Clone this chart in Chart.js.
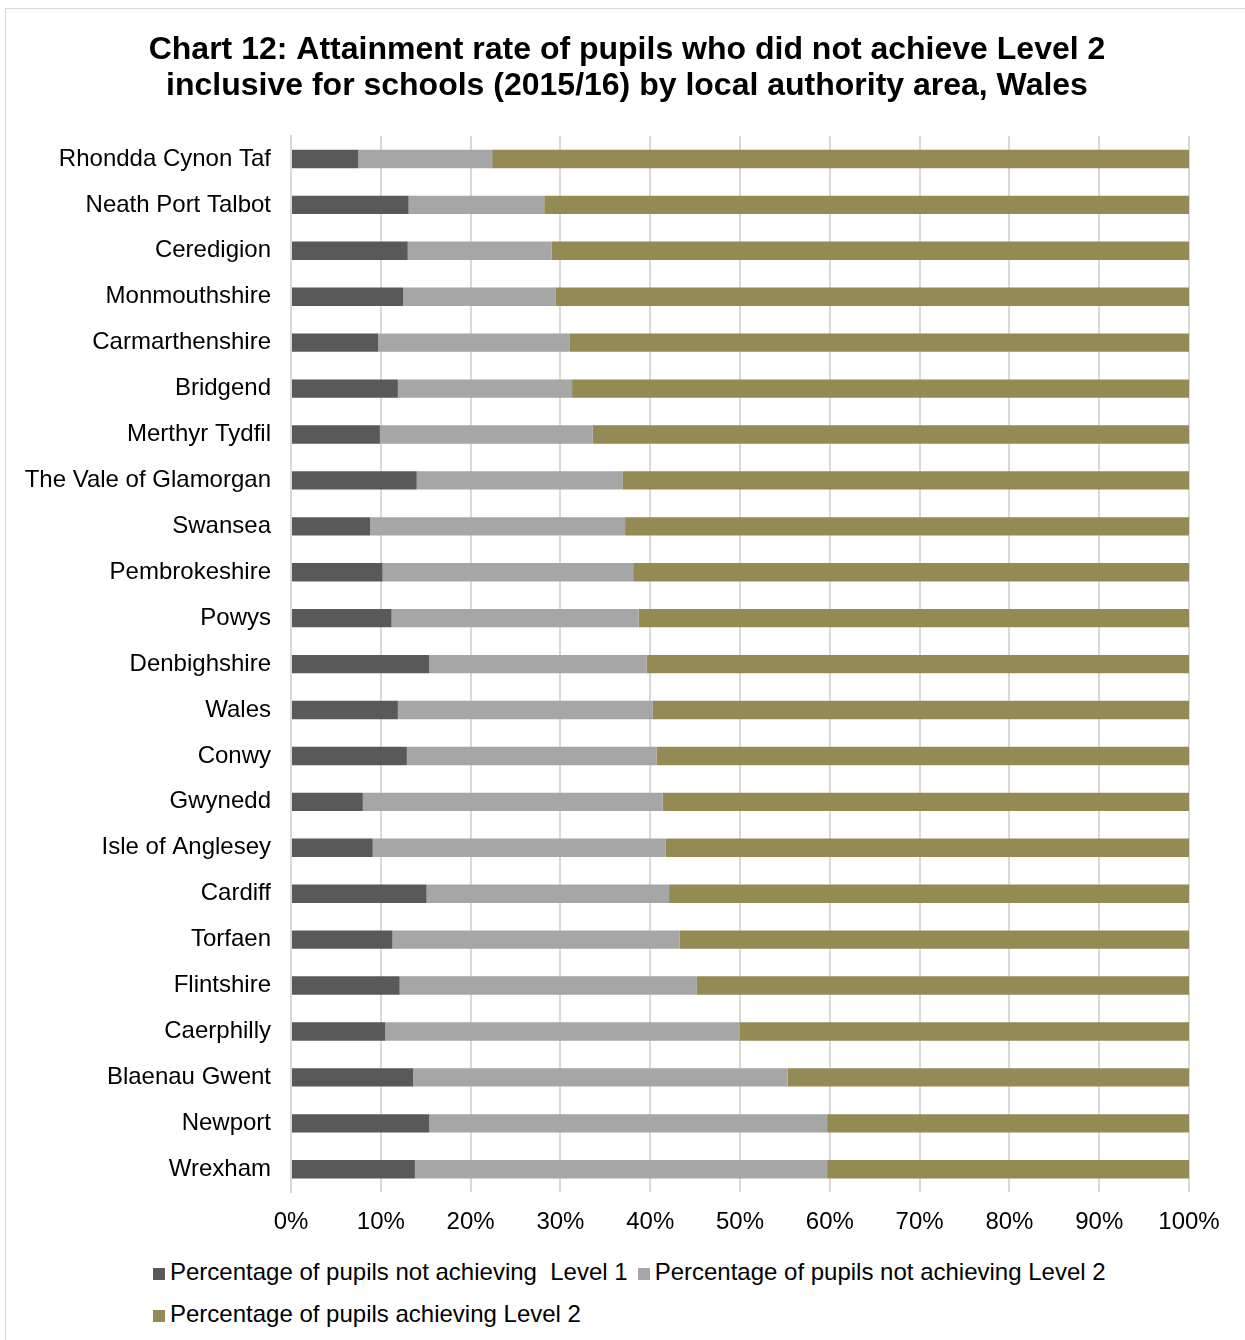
<!DOCTYPE html>
<html>
<head>
<meta charset="utf-8">
<script src="https://cdn.jsdelivr.net/npm/chart.js@4/dist/chart.umd.min.js"></script>
<style>
    body { margin: 0; background: #fff; }
    #frame {
        position: absolute; left: 5px; top: 8px; width: 1260px; height: 1360px;
        border: 1px solid #d9d9d9; box-sizing: border-box; background: #fff;
    }
    #wrap { position: absolute; left: 0; top: 0; width: 1245px; height: 1253px; }
    #legend {
        position: absolute; left: 152px; top: 1257px; width: 1000px;
        font: 24px "Liberation Sans", Arial, sans-serif; color: #000;
    }
    #legend span.item { display: inline-block; white-space: pre; height: 42px; line-height: 30px; margin-right: 9px; }
    #legend i { display: inline-block; width: 12px; height: 12px; margin: 0 5px 0 1px; }
</style>
</head>
<body>
<div id="frame"></div>
<div id="wrap"><canvas id="chart"></canvas></div>
<div id="legend"></div>
<script>
const areas = [
    'Rhondda Cynon Taf', 'Neath Port Talbot', 'Ceredigion', 'Monmouthshire',
    'Carmarthenshire', 'Bridgend', 'Merthyr Tydfil', 'The Vale of Glamorgan',
    'Swansea', 'Pembrokeshire', 'Powys', 'Denbighshire', 'Wales', 'Conwy',
    'Gwynedd', 'Isle of Anglesey', 'Cardiff', 'Torfaen', 'Flintshire',
    'Caerphilly', 'Blaenau Gwent', 'Newport', 'Wrexham',
];

// share not reaching Level 1
const notLevel1 = [
    7.5, 13.1, 13.0, 12.5, 9.7, 11.9, 9.9, 14.0, 8.8, 10.2, 11.2, 15.4,
    11.9, 12.9, 8.0, 9.1, 15.1, 11.3, 12.1, 10.5, 13.6, 15.4, 13.8,
];
// reached Level 1 but not Level 2
const notLevel2 = [
    14.9, 15.1, 16.0, 17.0, 21.3, 19.4, 23.7, 22.9, 28.4, 27.9, 27.5, 24.2,
    28.4, 27.8, 33.4, 32.6, 27.0, 32.0, 33.1, 39.5, 41.7, 44.3, 45.9,
];
const achievedLevel2 = [
    77.6, 71.8, 71.0, 70.5, 69.0, 68.7, 66.4, 63.1, 62.8, 61.9, 61.3, 60.4,
    59.7, 59.3, 58.6, 58.3, 57.9, 56.7, 54.8, 50.0, 44.7, 40.3, 40.3,
];

const seriesNames = [
    'Percentage of pupils not achieving  Level 1',
    'Percentage of pupils not achieving Level 2',
    'Percentage of pupils achieving Level 2',
];
const seriesColours = ['#595959', '#a6a6a6', '#948a54'];
const xTicks = [0, 10, 20, 30, 40, 50, 60, 70, 80, 90, 100];

const font = '"Liberation Sans", Arial, sans-serif';

// the left padding only serves to centre the title; let the category
// labels use that strip too instead of being clipped at the scale edge
const widenLabels = {
    id: 'widenLabels',
    afterLayout(chart) {
        chart.scales.y.left = 0;
    },
};

const chart = new Chart(document.getElementById('chart'), {
    type: 'bar',
    data: {
        labels: areas,
        datasets: [notLevel1, notLevel2, achievedLevel2].map((values, i) => ({
            label: seriesNames[i],
            data: values,
            backgroundColor: seriesColours[i],
            barPercentage: 0.4,
            categoryPercentage: 1,
        })),
    },
    plugins: [widenLabels],
    options: {
        indexAxis: 'y',
        responsive: true,
        maintainAspectRatio: false,
        animation: false,
        layout: { padding: { left: 65, right: 56, bottom: 0 } },
        plugins: {
            legend: { display: false },
            tooltip: { enabled: false },
            title: {
                display: true,
                text: [
                    'Chart 12: Attainment rate of pupils who did not achieve Level 2',
                    'inclusive for schools (2015/16) by local authority area, Wales',
                ],
                color: '#000',
                font: { family: font, size: 32, weight: 'bold', lineHeight: 1.125 },
                padding: { top: 32, bottom: 32 },
            },
        },
        scales: {
            x: {
                stacked: true,
                min: 0,
                max: 100,
                afterBuildTicks: (scale) => {
                    scale.ticks = xTicks.map(v => ({ value: v }));
                },
                ticks: {
                    callback: (v) => v + '%',
                    color: '#000',
                    font: { family: font, size: 24 },
                    padding: 16,
                    maxRotation: 0,
                },
                grid: { color: '#d9d9d9', lineWidth: 2, drawTicks: false },
                border: { display: false },
            },
            y: {
                stacked: true,
                afterFit: (scale) => { scale.width = 226; },
                ticks: {
                    color: '#000',
                    font: { family: font, size: 24 },
                    padding: 20,
                    autoSkip: false,
                },
                grid: { display: false, drawTicks: false },
                border: { color: '#d9d9d9', width: 2 },
            },
        },
    },
});

// legend rows below the chart
const legend = document.getElementById('legend');
chart.data.datasets.forEach((ds) => {
    const item = document.createElement('span');
    item.className = 'item';
    const box = document.createElement('i');
    box.style.background = ds.backgroundColor;
    item.appendChild(box);
    item.appendChild(document.createTextNode(ds.label));
    legend.appendChild(item);
});
</script>
</body>
</html>
